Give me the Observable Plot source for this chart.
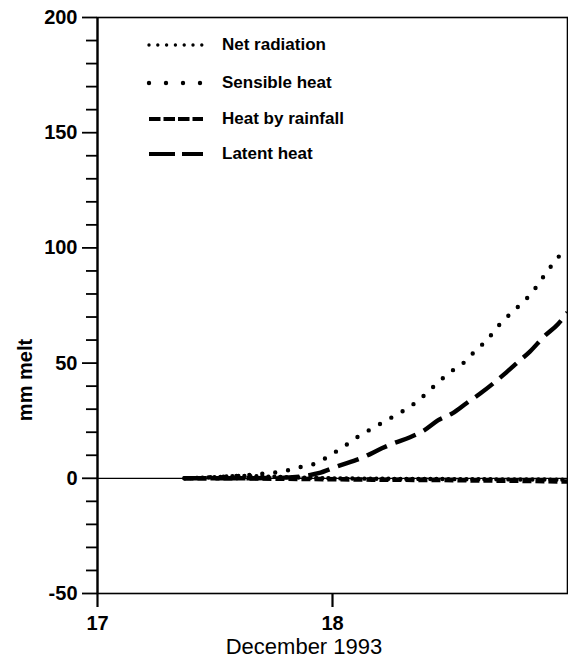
<!DOCTYPE html>
<html><head><meta charset="utf-8">
<script src="https://cdn.jsdelivr.net/npm/d3@7"></script>
<script src="https://cdn.jsdelivr.net/npm/@observablehq/plot@0.6"></script>
<style>
body{margin:0;background:#fff;}
#chart{position:relative;width:568px;height:659px;}
</style></head><body><div id="chart"></div>
<script>
// ---- data (day of December 1993, mm melt) ----
const netRadDays = [17.37, 17.5, 17.6, 17.7, 17.8, 17.9, 18.0, 18.2, 18.4, 18.6, 18.8, 19.0];
const netRadMelt = [0, 0.5, 1.0, 0.8, 0.5, 0.2, 0, -0.2, -0.3, -0.4, -0.5, -0.6];

const sensibleDays = [17.37, 17.45, 17.55, 17.65, 17.72, 17.79, 17.86, 17.93, 17.99, 18.05, 18.11, 18.17, 18.23, 18.29, 18.35, 18.40, 18.45, 18.50, 18.56, 18.61, 18.66, 18.70, 18.75, 18.80, 18.85, 18.89, 18.93, 18.96, 18.99];
const sensibleMelt = [0, 0.3, 0.8, 1.5, 2.2, 3.0, 4.8, 6.5, 10, 13.9, 18.2, 21.7, 25.2, 28.6, 32.6, 36.9, 41.7, 46.0, 50.3, 55.6, 60.3, 65.5, 70.7, 75.5, 80.7, 86.4, 92.0, 95.9, 99];

const rainDays = [17.37, 17.6, 17.8, 18.0, 18.2, 18.4, 18.6, 18.8, 19.0];
const rainMelt = [0, 0, -0.2, -0.4, -0.6, -0.7, -0.9, -1.1, -1.4];

const latentDays = [17.37, 17.6, 17.8, 17.88, 17.94, 18.02, 18.13, 18.21, 18.26, 18.33, 18.39, 18.45, 18.51, 18.57, 18.63, 18.69, 18.74, 18.79, 18.84, 18.90, 18.96, 19.0];
const latentMelt = [0, 0, 0.3, 1, 2.2, 5.2, 9.1, 13, 15.2, 17.8, 20.8, 25.2, 28.2, 32.6, 36.9, 41.7, 46, 50.5, 55, 61.5, 67, 72];

const seriesNames = ["Net radiation", "Sensible heat", "Heat by rainfall", "Latent heat"];
const yTicks = [-50, 0, 50, 100, 150, 200];
const yMinorTicks = [-40, -30, -20, -10, 10, 20, 30, 40, 60, 70, 80, 90, 110, 120, 130, 140, 160, 170, 180, 190];
const xTicks = [17, 18];
const xLabel = "December 1993";
const yLabel = "mm melt";

// ---- styles ----
const styles = [
  {dash: "0 6", width: 4.4, cap: "round", legendDash: "0 8.8", legendWidth: 3.4},
  {dash: "0 13", width: 4.4, cap: "round", legendDash: "0 17", legendWidth: 4.4},
  {dash: "9 4", width: 4.6, cap: "butt", legendDash: "11.5 3", legendWidth: 3.8},
  {dash: "22 9", width: 4.4, cap: "butt", legendDash: "26 7", legendWidth: 4}
];

const toRows = (days, melt) => days.map((d, i) => ({day: d, melt: melt[i]}));
const seriesData = [
  toRows(netRadDays, netRadMelt),
  toRows(sensibleDays, sensibleMelt),
  toRows(rainDays, rainMelt),
  toRows(latentDays, latentMelt)
];

const font = "'Liberation Sans', Arial, Helvetica, sans-serif";
const fmt = d => String(d);

const chart = Plot.plot({
  width: 568,
  height: 659,
  marginLeft: 97,
  marginRight: 1,
  marginTop: 17,
  marginBottom: 66,
  style: {fontFamily: font, fontSize: "20px", background: "white", color: "black", overflow: "visible"},
  x: {domain: [17, 19]},
  y: {domain: [-50, 200]},
  marks: [
    Plot.frame({strokeWidth: 1.6}),
    Plot.ruleX([17], {strokeWidth: 2.2}),
    Plot.ruleY([0], {strokeWidth: 1.2}),
    Plot.axisY(yMinorTicks, {tickSize: 11, tickFormat: () => "", strokeWidth: 1.8, label: null}),
    Plot.axisY(yTicks, {tickSize: 15, tickPadding: 5, strokeWidth: 1.8, fontSize: 20, fontWeight: "bold", tickFormat: fmt, label: null}),
    Plot.axisX(xTicks, {tickSize: 14, tickPadding: 8, strokeWidth: 2.2, fontSize: 20, fontWeight: "bold", tickFormat: fmt, label: null}),
    ...seriesData.map((rows, i) => Plot.line(rows, {
      x: "day", y: "melt", stroke: "black",
      strokeWidth: styles[i].width,
      strokeDasharray: styles[i].dash,
      strokeLinecap: styles[i].cap,
      curve: "monotone-x"
    }))
  ]
});

document.getElementById("chart").appendChild(chart);

const svg = d3.select(chart);
// axis labels
svg.append("text")
  .attr("x", 304).attr("y", 654)
  .attr("text-anchor", "middle")
  .attr("font-family", font).attr("font-size", 22)
  .attr("fill", "black")
  .text(xLabel);
svg.append("text")
  .attr("transform", "translate(32,380) rotate(-90)")
  .attr("text-anchor", "middle")
  .attr("font-family", font).attr("font-size", 20).attr("font-weight", "bold")
  .attr("fill", "black")
  .text(yLabel);

// legend
const legendY = [44, 82, 118, 153];
const lg = svg.append("g");
seriesNames.forEach((name, i) => {
  lg.append("line")
    .attr("x1", 149).attr("x2", 203)
    .attr("y1", legendY[i] + 1).attr("y2", legendY[i] + 1)
    .attr("stroke", "black")
    .attr("stroke-width", styles[i].legendWidth)
    .attr("stroke-linecap", styles[i].cap)
    .attr("stroke-dasharray", styles[i].legendDash);
  lg.append("text")
    .attr("x", 222).attr("y", legendY[i])
    .attr("dy", "0.35em")
    .attr("text-anchor", "start")
    .attr("font-family", font).attr("font-size", 17).attr("font-weight", "bold")
    .attr("fill", "black")
    .text(name);
});
</script>
</body></html>
